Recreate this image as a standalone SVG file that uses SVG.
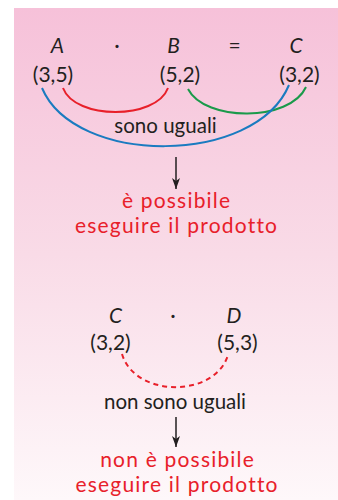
<svg xmlns="http://www.w3.org/2000/svg" width="338" height="500" viewBox="0 0 338 500">
<defs>
<linearGradient id="bg" x1="0" y1="0" x2="0" y2="1">
<stop offset="0" stop-color="#f6c1d9"/>
<stop offset="0.5" stop-color="#f9dbe7"/>
<stop offset="1" stop-color="#fef8fa"/>
</linearGradient>
<marker id="ah" viewBox="0 0 11 8" refX="11" refY="4" markerWidth="11" markerHeight="8" markerUnits="userSpaceOnUse" orient="auto">
<path d="M0,0 L11,4 L0,8 L3,4 Z" fill="#231f20"/>
</marker>
<style>
text{font-family:Lato,"Liberation Sans",sans-serif;fill:#231f20;text-anchor:middle}
.v{font-style:italic;font-size:21px}
.p{font-size:21px}
.l{font-size:20.5px}
.r{font-size:21px;letter-spacing:1.2px;fill:#e8202a}
.arc{fill:none;stroke-width:2}
</style>
</defs>
<rect x="14" y="8" width="324" height="492" fill="url(#bg)"/>
<g id="top-row">
<text class="v" x="57.5" y="53">A</text>
<text class="p" x="117" y="53">·</text>
<text class="v" x="173.5" y="53">B</text>
<text class="p" x="234.5" y="53">=</text>
<text class="v" x="296" y="53">C</text>
</g>
<g id="dims-top">
<text class="p" x="53" y="82">(3,5)</text>
<text class="p" x="180" y="82">(5,2)</text>
<text class="p" x="299.5" y="82">(3,2)</text>
</g>
<g id="connectors">
<path class="arc" stroke="#e8202a" d="M63,88 C75,120 156,120 168,88"/>
<path class="arc" stroke="#1a9a4a" d="M188,89 C205,122 290,122 306,87"/>
<path class="arc" stroke="#1a7bc0" d="M42,88 C75,166 255,166 289,85"/>
<line x1="176" y1="157" x2="176" y2="189" stroke="#231f20" stroke-width="1.5" marker-end="url(#ah)"/>
<path class="arc" stroke="#e8202a" stroke-dasharray="5,4" d="M122,354 C135,398 215,398 228,355"/>
<line x1="176" y1="417" x2="176" y2="447" stroke="#231f20" stroke-width="1.5" marker-end="url(#ah)"/>
</g>
<g id="label-equal">
<text class="l" x="165.5" y="133">sono uguali</text>
</g>
<g id="result-top">
<text class="r" x="176.6" y="208">è possibile</text>
<text class="r" x="176.6" y="233">eseguire il prodotto</text>
</g>
<g id="bottom-row">
<text class="v" x="115.5" y="323">C</text>
<text class="p" x="173" y="323">·</text>
<text class="v" x="234" y="323">D</text>
</g>
<g id="dims-bottom">
<text class="p" x="110.5" y="350">(3,2)</text>
<text class="p" x="237.5" y="350">(5,3)</text>
</g>
<g id="label-notequal">
<text class="l" x="175" y="409">non sono uguali</text>
</g>
<g id="result-bottom">
<text class="r" x="177.6" y="467">non è possibile</text>
<text class="r" x="177.1" y="492">eseguire il prodotto</text>
</g>
</svg>
